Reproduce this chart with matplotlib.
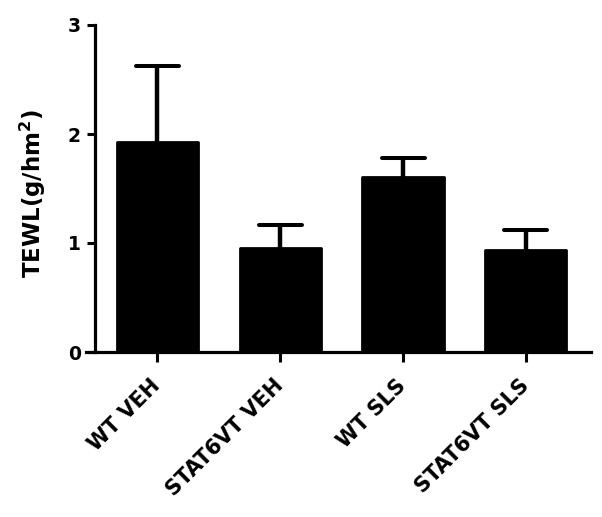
import matplotlib
matplotlib.use("Agg")
import matplotlib.pyplot as plt
import numpy as np

groups = ["WT VEH", "STAT6VT VEH", "WT SLS", "STAT6VT SLS"]
means = [1.93, 0.95, 1.61, 0.94]
errs = [0.69, 0.215, 0.17, 0.18]
yticks = [0, 1, 2, 3]

plt.rcParams['font.family'] = ['DejaVu Sans']
plt.rcParams['font.weight'] = 'bold'

fig = plt.figure(figsize=(6.02, 5.17), dpi=100)
ax = fig.add_axes([86 / 602, 165 / 517, (591 - 86) / 602, (352 - 25) / 517])

x = np.arange(len(groups))
tops = np.array(means) + np.array(errs)
ax.bar(x, means, width=0.66, color='black', edgecolor='black', linewidth=2,
       joinstyle='round', zorder=2)
# upper error bars only (GraphPad style)
ax.vlines(x, means, tops, color='black', linewidth=3.2, zorder=3)
ax.hlines(tops, x - 0.175, x + 0.175, color='black', linewidth=2.9,
          capstyle='round', zorder=3)

ax.set_xlim(-0.58, 3.53)
ax.set_ylim(0, 3)
ax.spines['top'].set_visible(False)
ax.spines['right'].set_visible(False)
ax.spines['left'].set_position(('data', -0.51))
ax.spines['left'].set_linewidth(2.3)
ax.spines['bottom'].set_linewidth(2.3)

ax.set_yticks(yticks)
ax.set_yticklabels([str(v) for v in yticks], fontsize=13.5, fontweight='bold')
ax.tick_params(axis='y', length=6, width=2.2, pad=4)
ax.set_xticks(x)
ax.set_xticklabels(groups, rotation=45, ha='right', va='center', rotation_mode='anchor',
                   fontsize=15, fontweight='bold')
ax.tick_params(axis='x', length=7, width=2.2, pad=15)

ax.set_ylabel('TEWL(g/hm$^2$)', fontsize=16.5, fontweight='bold')
ax.yaxis.set_label_coords(-0.075, 0.486)

fig.savefig('out.png', dpi=100)
